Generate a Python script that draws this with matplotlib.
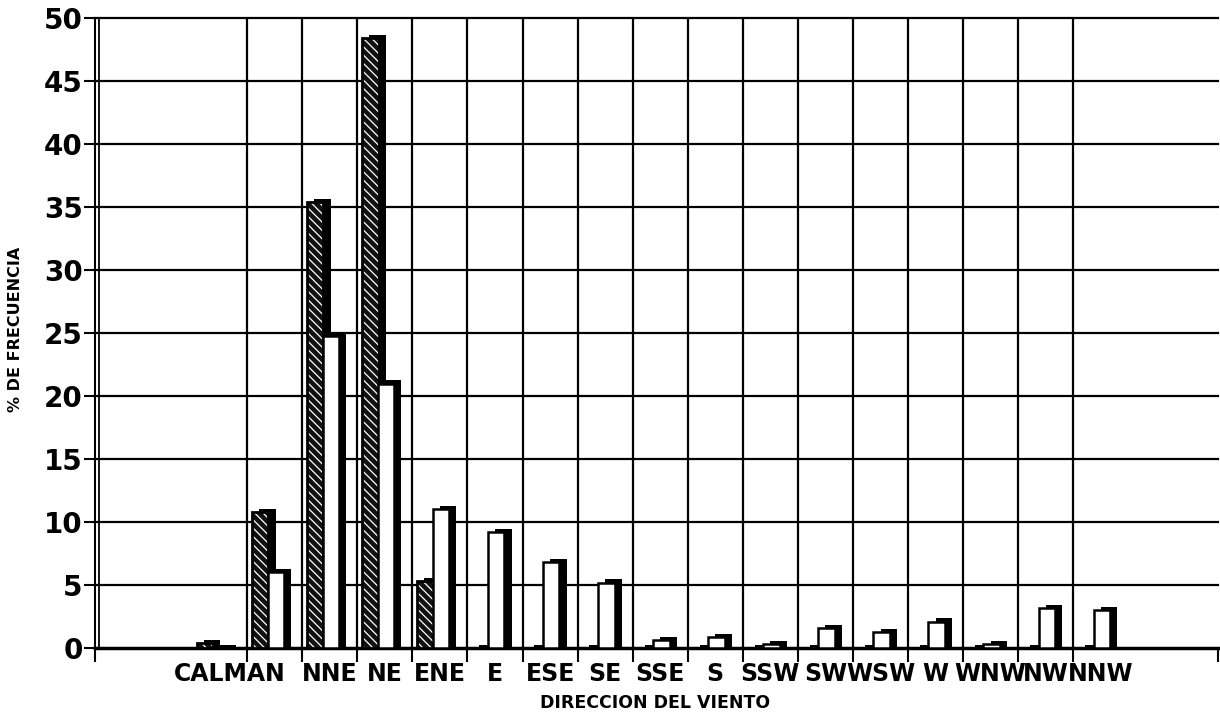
import numpy as np
import matplotlib
matplotlib.use("Agg")
import matplotlib.pyplot as plt

# wind direction categories and frequency (%) for both series
directions = ["CALMA", "N", "NNE", "NE", "ENE", "E", "ESE", "SE", "SSE",
              "S", "SSW", "SW", "WSW", "W", "WNW", "NW", "NNW"]
hatched_vals = [0.4, 10.8, 35.4, 48.4, 5.3, 0, 0, 0, 0,
                0, 0, 0, 0, 0, 0, 0, 0]
white_vals = [0, 6.0, 24.8, 21.0, 11.0, 9.2, 6.8, 5.2, 0.6,
              0.9, 0.3, 1.6, 1.3, 2.1, 0.3, 3.2, 3.0]
yticks = list(range(0, 51, 5))

plt.rcParams['hatch.linewidth'] = 0.9
plt.rcParams['hatch.color'] = 'white'

fig = plt.figure(figsize=(12.2, 7.14), dpi=100)
ax = fig.add_axes([0.078, 0.0924, 0.92, 0.882])

x = np.arange(len(directions))
hatched = np.array(hatched_vals, dtype=float)
white = np.array(white_vals, dtype=float)

w = 0.30
dx = 0.13
dy = 0.25

# hatched series (dark with white diagonal lines) + shadow
hx = x - 0.265
ax.bar(hx + dx, hatched + dy, w, color="black", lw=0, zorder=3)
ax.bar(hx, hatched, w, color="#111111", edgecolor="white", hatch="\\\\\\\\", lw=0, zorder=4)
ax.bar(hx, hatched, w, fill=False, edgecolor="black", lw=2.0, zorder=5)

# white series + shadow
wx = x + 0.02
ax.bar(wx + dx, white + dy, w, color="black", lw=0, zorder=6)
ax.bar(wx, white, w, color="white", edgecolor="black", lw=1.8, zorder=7)

# grid
for y in yticks[1:]:
    ax.axhline(y, color="black", lw=1.6, zorder=1, clip_on=False)
bounds = x[:-1] + 0.5
for b in bounds:
    ax.axvline(b, color="black", lw=1.6, zorder=1)

xmin, xmax = -2.26, 18.12
ax.set_xlim(xmin, xmax)
ax.set_ylim(0, 50)
ax.axvline(xmin + 0.07, color="black", lw=1.3, zorder=2)

for s in ["top", "right"]:
    ax.spines[s].set_visible(False)
ax.spines["left"].set_linewidth(1.5)
ax.spines["bottom"].set_linewidth(2.5)

ax.set_yticks(yticks)
ax.set_yticklabels([str(v) for v in yticks], fontsize=20, fontweight="bold",
                   family="DejaVu Sans")
ax.tick_params(axis="y", length=8, width=1.5, direction="out", pad=1)

ax.set_xticks(x)
ax.set_xticklabels(directions, fontsize=17, fontweight="bold", family="DejaVu Sans")
ax.set_xticks([xmin] + list(bounds) + [xmax], minor=True)
ax.tick_params(axis="x", which="major", length=0, pad=10)
ax.tick_params(axis="x", which="minor", length=10, width=1.5, direction="out")

fig.text(0.537, 0.016, "DIRECCION DEL VIENTO", fontsize=12.5, fontweight="bold",
         ha="center", va="center")
fig.text(0.0125, 0.538, "% DE FRECUENCIA", fontsize=11.5, fontweight="bold",
         rotation=90, ha="center", va="center")

fig.savefig("out.png", dpi=100)
